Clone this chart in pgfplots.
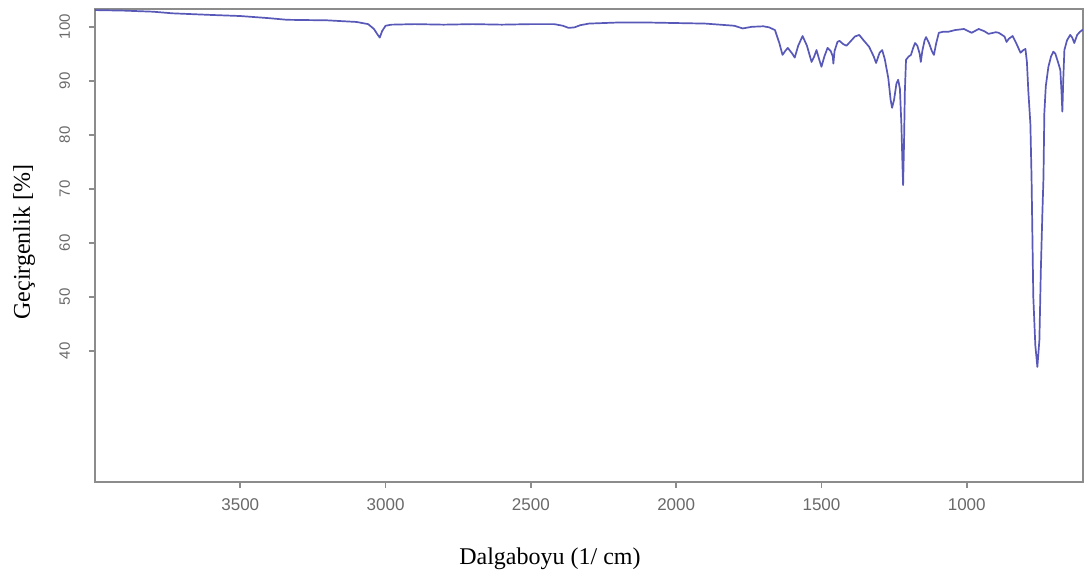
\documentclass[border=0pt]{standalone}
\usepackage{fontspec}
\setmainfont{Liberation Serif}
\newfontfamily\arialf{Liberation Sans}
\usepackage{pgfplots}
\pgfplotsset{compat=1.18}
\definecolor{specblue}{RGB}{88,88,185}
\definecolor{axgray}{RGB}{140,140,140}
\definecolor{tkgray}{RGB}{105,105,105}
\begin{document}
\begin{tikzpicture}
\useasboundingbox (-47.5pt,-46pt) rectangle (495.5pt,241pt);
\begin{axis}[
  scale only axis,
  width=494pt, height=236.5pt,
  at={(0,0)}, anchor=south west,
  x dir=reverse,
  xmin=600, xmax=4000,
  ymin=15.7, ymax=103.3,
  xtick={1000,1500,2000,2500,3000,3500},
  ytick={40,50,60,70,80,90,100},
  /pgf/number format/1000 sep={},
  /pgf/number format/assume math mode=true,
  axis line style={axgray, line width=1pt},
  tick style={axgray, line width=0.8pt},
  tick align=outside,
  major tick length=3pt,
  xtick pos=bottom, ytick pos=left,
  xticklabel style={font=\arialf\fontsize{8.5}{10}\selectfont, text=tkgray, yshift=-2pt},
  yticklabel style={font=\arialf\fontsize{7.5}{9}\selectfont, text=tkgray, rotate=90, anchor=south, yshift=6pt},
  xlabel={Dalgaboyu (1/ cm)},
  ylabel={Geçirgenlik [\%]},
  label style={font=\fontsize{12}{14}\selectfont},
  xlabel style={at={(axis description cs:0.4605,0)}, anchor=base, yshift=-41pt},
  ylabel style={at={(axis description cs:-0.0658,0.507)}, anchor=base, rotate=0},
  clip=true,
]
\addplot[specblue, line width=0.85pt, line join=round] coordinates {
(4000,103.1) (3900,103.0) (3800,102.8) (3733,102.5) (3600,102.2) (3500,102.0)
(3400,101.6) (3339,101.3) (3200,101.2) (3100,100.9) (3060,100.5) (3040,99.6)
(3028,98.6) (3020,98.0) (3012,99.2) (3000,100.2) (2980,100.4) (2900,100.5)
(2800,100.4) (2700,100.5) (2600,100.4) (2500,100.5) (2420,100.5) (2390,100.2)
(2370,99.8) (2350,99.9) (2330,100.3) (2300,100.6) (2200,100.8) (2100,100.8)
(2000,100.7) (1900,100.6) (1800,100.2) (1771,99.7) (1740,100.0) (1700,100.1)
(1680,99.9) (1660,99.4) (1645,97.0) (1634,94.8) (1625,95.5) (1616,96.1)
(1600,95.0) (1592,94.3) (1580,96.5) (1565,98.3) (1550,96.5) (1534,93.5)
(1525,94.5) (1517,95.7) (1508,94.0) (1500,92.6) (1490,94.5) (1479,96.1)
(1468,95.5) (1461,94.5) (1459,93.2) (1455,95.5) (1445,97.2) (1438,97.4)
(1425,96.8) (1414,96.5) (1400,97.3) (1385,98.2) (1370,98.5) (1355,97.5)
(1336,96.3) (1320,94.5) (1312,93.3) (1300,95.2) (1291,95.7) (1282,94.0)
(1270,90.5) (1262,86.5) (1257,85.0) (1250,86.5) (1242,89.5) (1236,90.2)
(1230,88.5) (1225,82.0) (1221,74.0) (1219,70.7) (1216,78.0) (1213,88.0)
(1209,93.9) (1200,94.5) (1192,94.8) (1185,96.0) (1178,97.0) (1170,96.5)
(1162,95.0) (1158,93.5) (1153,95.5) (1145,97.5) (1140,98.1) (1130,97.0)
(1120,95.5) (1113,94.8) (1105,97.0) (1096,98.9) (1080,99.1) (1062,99.1)
(1040,99.4) (1010,99.6) (983,98.9) (959,99.6) (940,99.2) (925,98.7)
(900,99.0) (890,98.9) (870,98.2) (863,97.2) (855,97.8) (842,98.3)
(830,97.0) (815,95.2) (805,95.7) (798,95.9) (793,93.5) (788,88.0)
(781,82.0) (777,72.0) (771,50.0) (764,41.0) (757,37.0) (750,42.0)
(745,55.0) (740,65.0) (736,72.0) (733,84.0) (728,89.0) (719,92.6)
(710,94.5) (702,95.4) (695,95.0) (688,93.8) (685,93.3) (678,92.0)
(674,88.0) (671,84.3) (668,90.0) (664,95.7) (655,97.5) (644,98.5)
(637,98.0) (630,97.0) (620,98.5) (610,99.1) (600,99.5)
};
\end{axis}
\end{tikzpicture}
\end{document}
